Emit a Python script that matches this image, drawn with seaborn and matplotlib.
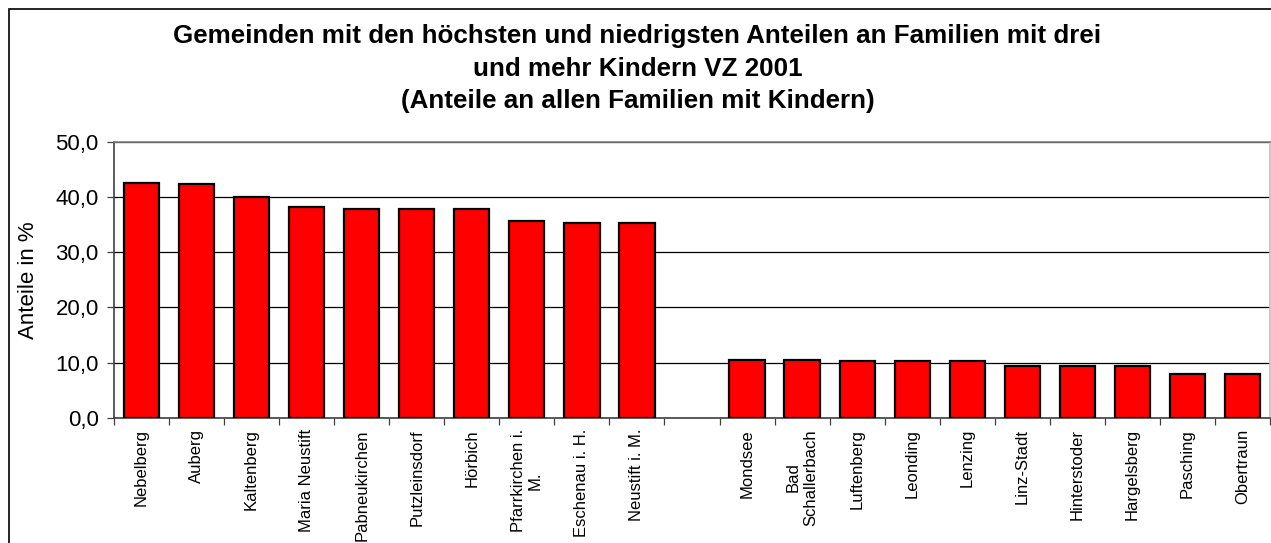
import matplotlib
matplotlib.use("Agg")
import matplotlib.pyplot as plt
import matplotlib.ticker as mticker
from matplotlib.patches import Rectangle
import pandas as pd
import seaborn as sns

# Gemeinden: 10 highest, 10 lowest shares of families with 3+ children
gemeinden_hoch = ["Nebelberg", "Auberg", "Kaltenberg", "Maria Neustift", "Pabneukirchen",
                  "Putzleinsdorf", "Hörbich", "Pfarrkirchen i.\nM.", "Eschenau i. H.", "Neustift i. M."]
anteile_hoch = [42.6, 42.4, 40.0, 38.1, 37.9, 37.85, 37.8, 35.7, 35.2, 35.2]

gemeinden_niedrig = ["Mondsee", "Bad\nSchallerbach", "Luftenberg", "Leonding", "Lenzing",
                     "Linz-Stadt", "Hinterstoder", "Hargelsberg", "Pasching", "Obertraun"]
anteile_niedrig = [10.5, 10.5, 10.4, 10.4, 10.3, 9.5, 9.5, 9.4, 8.0, 7.9]

gap = " "
order = gemeinden_hoch + [gap] + gemeinden_niedrig

df = pd.DataFrame({
    "Gemeinde": gemeinden_hoch + gemeinden_niedrig,
    "Anteil": anteile_hoch + anteile_niedrig,
})

sns.set_style("white")
plt.rcParams["font.family"] = ["Liberation Sans", "DejaVu Sans"]
plt.rcParams["text.color"] = "black"
plt.rcParams["axes.labelcolor"] = "black"
plt.rcParams["xtick.color"] = "black"
plt.rcParams["ytick.color"] = "black"

fig = plt.figure(figsize=(12.71, 5.43), dpi=100)
ax = fig.add_axes([114 / 1271, 1 - 418 / 543, (1270 - 114) / 1271, (418 - 141.7) / 543])

sns.barplot(data=df, x="Gemeinde", y="Anteil", order=order, color="#ff0000",
            saturation=1, width=0.64, edgecolor="black", linewidth=1.6, ax=ax, zorder=3)

ax.set_xlim(-0.5, len(order) - 0.5)
ax.set_ylim(0, 50)
ax.yaxis.set_major_locator(mticker.MultipleLocator(10))
ax.yaxis.set_major_formatter(mticker.FuncFormatter(lambda v, p: f"{v:.1f}".replace(".", ",")))
ax.grid(axis="y", color="black", linewidth=0.9, zorder=0)
ax.set_axisbelow(True)

# ticks between categories, labels at centres
ax.set_xticks([i + 0.5 for i in range(-1, len(order))])
ax.set_xticklabels([])
ax.set_xticks(range(len(order)), minor=True)
ax.set_xticklabels(order, minor=True, rotation=90, fontsize=12,
                   multialignment="center", va="top", ha="center")
ax.tick_params(axis="x", which="major", length=5, width=0.9, color="#404040", direction="out")
ax.tick_params(axis="x", which="minor", length=0, pad=8)
ax.tick_params(axis="y", length=5, width=0.9, color="#404040", direction="out",
               labelsize=16, pad=6)
ax.tick_params(left=True, bottom=True)

ax.set_xlabel("")
ax.set_ylabel("Anteile in %", fontsize=16, labelpad=12)

for side, c in [("left", "#404040"), ("bottom", "#404040"), ("top", "#808080"), ("right", "#c0c0c0")]:
    ax.spines[side].set_visible(True)
    ax.spines[side].set_color(c)
    ax.spines[side].set_linewidth(1.2)

fig.text(637.5 / 1271, 1 - 24 / 543,
         "Gemeinden mit den höchsten und niedrigsten Anteilen an Familien mit drei\n"
         "und mehr Kindern VZ 2001\n(Anteile an allen Familien mit Kindern)",
         ha="center", va="top", fontsize=18.7, fontweight="bold", linespacing=1.46)

# chart border
fig.patches.append(Rectangle((9 / 1271, -0.05), 1.1, 1 - 9 / 543 + 0.05, transform=fig.transFigure,
                             fill=False, edgecolor="black", linewidth=1.2))

fig.savefig("out.png", dpi=100)
